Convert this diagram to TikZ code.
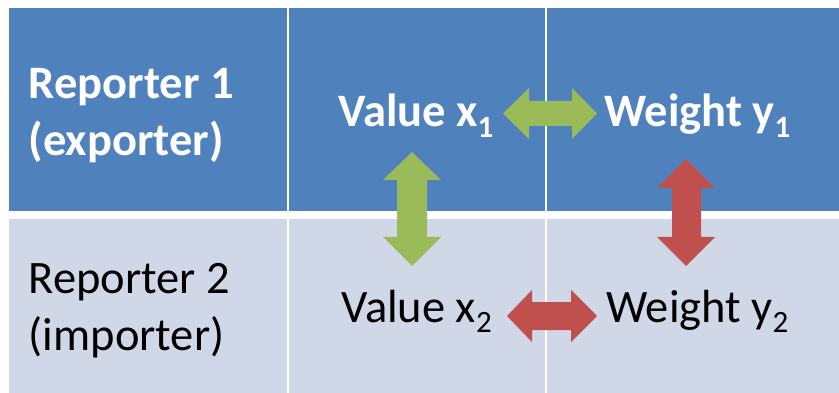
\documentclass[tikz,border=0pt]{standalone}
\usepackage{fontspec}
\setmainfont{Carlito}
\definecolor{hdblue}{HTML}{4F81BD}
\definecolor{rowlight}{HTML}{D0D8E8}
\definecolor{arrgreen}{HTML}{9BBB59}
\definecolor{arrred}{HTML}{C0504D}
\newcommand\subs[1]{\raisebox{-10.5pt}{\fontsize{31}{31}\selectfont #1}}
\tikzset{
  celltext/.style={anchor=base west, inner sep=0pt, font=\fontsize{46.5}{50}\selectfont},
  headtext/.style={celltext, text=white, font=\fontsize{46.5}{50}\selectfont\bfseries},
  bodytext/.style={celltext, text=black},
  hcell/.style={fill=hdblue, draw=none},
  bcell/.style={fill=rowlight, draw=none},
}
\begin{document}
\begin{tikzpicture}[x=1pt, y=-1pt]
\useasboundingbox (0,0) rectangle (839,393);
\fill[white] (0,0) rectangle (839,393);
% cells
\fill[hcell] (9,8) rectangle (287,211);
\fill[hcell] (289,8) rectangle (545,211);
\fill[hcell] (547,8) rectangle (839,211);
\fill[bcell] (9,219) rectangle (287,393);
\fill[bcell] (289,219) rectangle (545,393);
\fill[bcell] (547,219) rectangle (839,393);
% texts
\node[headtext] (r1a) at (28.5,99) {Reporter 1};
\node[headtext] (r1b) at (28.5,156) {(exporter)};
\node[bodytext] (r2a) at (28.5,293) {Reporter 2};
\node[bodytext] (r2b) at (28.5,350) {(importer)};
\node[headtext] (vx1) at (338,127) {Value x\subs{1}};
\node[headtext] (wy1) at (604,127) {Weight y\subs{1}};
\node[bodytext] (vx2) at (341,322) {Value x\subs{2}};
\node[bodytext] (wy2) at (606,322) {Weight y\subs{2}};
% arrows
% green horizontal
\fill[arrgreen] (503,113.5) -- (529,88) -- (529,101) -- (572,101) -- (572,88) -- (597,113.5)
  -- (572,139) -- (572,126) -- (529,126) -- (529,139) -- cycle;
% red horizontal
\fill[arrred] (507,316) -- (532,290) -- (532,302) -- (571,302) -- (571,290) -- (597,316)
  -- (571,342) -- (571,330) -- (532,330) -- (532,342) -- cycle;
% green vertical
\fill[arrgreen] (412,152) -- (441,180) -- (427,180) -- (427,237) -- (441,237) -- (412,266)
  -- (383,237) -- (397,237) -- (397,180) -- (383,180) -- cycle;
% red vertical
\fill[arrred] (686,159) -- (715,188) -- (701,188) -- (701,237) -- (715,237) -- (686,266)
  -- (657,237) -- (672,237) -- (672,188) -- (657,188) -- cycle;
\end{tikzpicture}
\end{document}
